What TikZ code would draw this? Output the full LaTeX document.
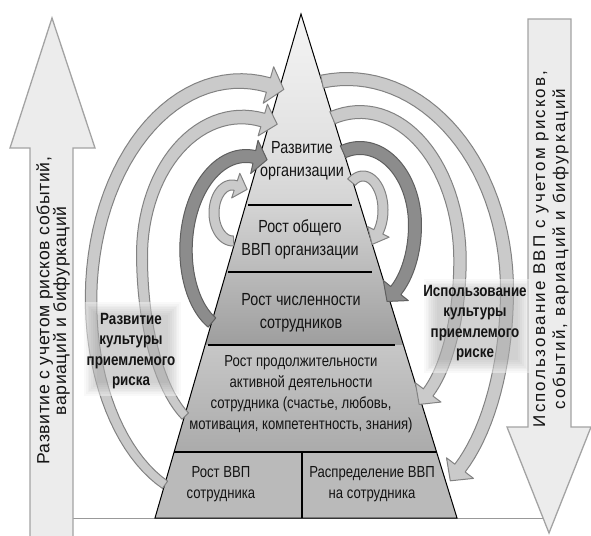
\documentclass[tikz,border=0pt]{standalone}
\usepackage{fontspec}
\setmainfont{Liberation Sans}
\newfontfamily\narrowfont{Liberation Sans}[FakeStretch=0.82]
\usetikzlibrary{calc}

\definecolor{arcfill}{HTML}{CACACA}
\definecolor{arcedge}{HTML}{828282}
\definecolor{darkfill}{HTML}{8C8C8C}
\definecolor{darkedge}{HTML}{5F5F5F}
\definecolor{bigfill}{HTML}{ECECEC}
\definecolor{bigedge}{HTML}{A3A3A3}

\pgfdeclareverticalshading{pyr}{100bp}{color(0bp)=(black!38); color(25bp)=(black!38); color(42.2bp)=(black!38); color(49.4bp)=(black!27); color(56bp)=(black!17); color(61.5bp)=(black!12); color(75bp)=(black!4); color(100bp)=(black!4)}

\pgfkeys{/arr/.cd,
  px/.store in=\Apx, pa/.store in=\Apa, cy/.store in=\Acy,
  ra/.store in=\Ara, rb/.store in=\Arb, rya/.store in=\Rya, ryb/.store in=\Ryb,
  t0/.store in=\Ata, t1/.store in=\Atb, h0/.store in=\Aha, h1/.store in=\Ahb,
  H/.store in=\AH, L/.store in=\AL}

\pgfmathdeclarefunction{arcr}{1}{\begingroup\pgfmathparse{((#1)<\Apa) ? \Ara : \Arb}\pgfmathsmuggle\pgfmathresult\endgroup}
\pgfmathdeclarefunction{arcry}{1}{\begingroup\pgfmathparse{((#1)<\Apa) ? \Rya : \Ryb}\pgfmathsmuggle\pgfmathresult\endgroup}
\pgfmathdeclarefunction{arcx}{1}{\begingroup\pgfmathparse{\Apx+arcr(#1)*(cos(#1)-\Acp)}\pgfmathsmuggle\pgfmathresult\endgroup}
\pgfmathdeclarefunction{arcy}{1}{\begingroup\pgfmathparse{\Acy+arcry(#1)*sin(#1)}\pgfmathsmuggle\pgfmathresult\endgroup}
\pgfmathdeclarefunction{arcnx}{1}{\begingroup\pgfmathparse{arcry(#1)*cos(#1)/veclen(arcr(#1)*sin(#1),arcry(#1)*cos(#1))}\pgfmathsmuggle\pgfmathresult\endgroup}
\pgfmathdeclarefunction{arcny}{1}{\begingroup\pgfmathparse{arcr(#1)*sin(#1)/veclen(arcr(#1)*sin(#1),arcry(#1)*cos(#1))}\pgfmathsmuggle\pgfmathresult\endgroup}
\pgfmathdeclarefunction{arch}{1}{\begingroup\pgfmathparse{\Aha+(\Ahb-\Aha)*((#1)-\Ata)/(\Atb-\Ata)}\pgfmathsmuggle\pgfmathresult\endgroup}

\newcommand\blockarc[2]{%
  \begingroup
  \pgfkeys{/arr/.cd,#1}%
  \pgfmathsetmacro\Acp{cos(\Apa)}%
  \pgfmathsetmacro\Bx{arcx(\Atb)}%
  \pgfmathsetmacro\By{arcy(\Atb)}%
  \pgfmathsetmacro\Nx{arcnx(\Atb)}%
  \pgfmathsetmacro\Ny{arcny(\Atb)}%
  \filldraw[#2] plot[domain=\Ata:\Atb,samples=50,variable=\t]
      ({arcx(\t)+arch(\t)*arcnx(\t)},{arcy(\t)+arch(\t)*arcny(\t)})
    -- ({\Bx+\AH*(\Nx)},{\By+\AH*(\Ny)})
    -- ({\Bx-\AL*(\Ny)},{\By+\AL*(\Nx)})
    -- ({\Bx-\AH*(\Nx)},{\By-\AH*(\Ny)})
    -- plot[domain=\Atb:\Ata,samples=50,variable=\t]
      ({arcx(\t)-arch(\t)*arcnx(\t)},{arcy(\t)-arch(\t)*arcny(\t)})
    -- cycle;
  \endgroup}

\newcommand\glowbox[4]{%
  \fill[white, opacity=0.5] (#1,#2) rectangle (#3,#4);
  \foreach \i in {0,...,7}{\fill[black, opacity=0.025] ($(#1,#2)+(\i*1.8,\i*1.8)$) rectangle ($(#3,#4)-(\i*1.8,\i*1.8)$);}%
}

\tikzset{
  txt/.style={align=center, inner sep=0pt, text=black!92},
  toptxt/.style={txt, font=\narrowfont\fontsize{17.5}{23}\selectfont},
  midtxt/.style={txt, font=\narrowfont\fontsize{16}{21}\selectfont},
  labtxt/.style={txt, font=\narrowfont\bfseries\fontsize{16.3}{20.5}\selectfont},
  bigtxtL/.style={txt, font=\fontsize{17.6}{16.8}\selectfont\addfontfeature{LetterSpace=3.5}},
  bigtxtR/.style={txt, font=\fontsize{17}{20}\selectfont\addfontfeature{LetterSpace=12}},
  lightarc/.style={fill=arcfill, draw=arcedge, line width=1pt, line join=round},
  darkarc/.style={fill=darkfill, draw=darkedge, line width=1pt, line join=round},
  bigarrow/.style={fill=bigfill, draw=bigedge, line width=1.3pt, line join=miter},
  divider/.style={black, line width=2.8pt},
}

\begin{document}
\begin{tikzpicture}[x=1pt,y=-1pt]
\useasboundingbox (0,0) rectangle (591,535);

% base line
\draw[black!40, line width=1.3pt] (60,518.5) -- (545,518.5);

% big side arrows
\draw[bigarrow] (30,540) -- (30,148) -- (10,148) -- (52,18) -- (95,148) -- (73,148) -- (73,540);
\draw[bigarrow] (528,19) -- (571,19) -- (571,427) -- (591,427) -- (549,533) -- (507,427) -- (528,427) -- cycle;
\node[bigtxtL, rotate=90] (lt) at (53,311) {Развитие с учетом рисков событий,\\вариаций и бифуркаций};
\node[bigtxtR, rotate=90] (rt) at (551,249) {Использование ВВП с учетом рисков,\\событий, вариаций и бифуркаций};

% pyramid
\coordinate (apex) at (301,14);
\coordinate (bl) at (155,518);
\coordinate (br) at (457,518);
\shade[shading=pyr] (apex) -- (br) -- (bl) -- cycle;
\shade[top color=black!22, bottom color=black!33] (205.1,345) -- (403.4,345) -- (436.6,452) -- (174.1,452) -- cycle;
\fill[black!27] (174.1,452) -- (436.6,452) -- (br) -- (bl) -- cycle;
\draw[black, line width=1pt, line join=miter] (apex) -- (br) -- (bl) -- cycle;
\draw[divider] (248,205) -- (352,205);
\draw[divider] (228,272) -- (372,272);
\draw[divider] (208,345) -- (395,345);
\draw[black, line width=2.4pt] (174.1,452) -- (436.6,452);
\draw[black, line width=1.4pt] (302,452) -- (302,518);

% curved block arrows, left
\blockarc{px=91,pa=180,cy=300,ra=120,rya=200,rb=149,ryb=219,t0=112.5,t1=281,h0=4.5,h1=7.5,H=19,L=16}{lightarc}
\blockarc{px=142,pa=180,cy=255,ra=71,rya=175,rb=100,ryb=138,t0=113,t1=282,h0=4.5,h1=7,H=16.5,L=15}{lightarc}
\blockarc{px=186,pa=180,cy=250,ra=45,rya=80,rb=60,ryb=94,t0=115,t1=278,h0=6,h1=6.5,H=17,L=13}{darkarc}
\blockarc{px=214,pa=180,cy=213,ra=19,rya=28,rb=18,ryb=28,t0=88,t1=282,h0=5,h1=5,H=13,L=12}{lightarc}
% curved block arrows, right
\blockarc{px=507,pa=360,cy=290,ra=160,rya=211,rb=100,ryb=210,t0=261,t1=418,h0=6.5,h1=6.5,H=17,L=16}{lightarc}
\blockarc{px=460,pa=360,cy=260,ra=100,rya=148,rb=60,ryb=150,t0=254,t1=422,h0=6.5,h1=6,H=16,L=15}{lightarc}
\blockarc{px=415,pa=360,cy=225,ra=55,rya=77,rb=45,ryb=80,t0=252,t1=415,h0=6.5,h1=6.5,H=16,L=14}{darkarc}
\blockarc{px=383,pa=360,cy=210,ra=20,rya=34,rb=20,ryb=34,t0=235,t1=400,h0=5,h1=5,H=12,L=14}{lightarc}

% label boxes
\glowbox{84}{302}{181}{396}
\glowbox{424}{279}{531}{373}
\node[labtxt] (lbl) at (131,351) {Развитие\\культуры\\приемлемого\\риска};
\node[labtxt] (lbr) at (475,323) {Использование\\культуры\\приемлемого\\риске};

% pyramid texts
\node[toptxt] (t1) at (302,161) {Развитие\\организации};
\node[toptxt] (t2) at (300,239) {Рост общего\\ВВП организации};
\node[toptxt] (t3) at (301,313) {Рост численности\\сотрудников};
\node[midtxt] (t4) at (301,394) {Рост продолжительности\\активной деятельности\\сотрудника (счастье, любовь,\\мотивация, компетентность, знания)};
\node[midtxt] (t5) at (221,484) {Рост ВВП\\сотрудника};
\node[midtxt] (t6) at (372,484) {Распределение ВВП\\на сотрудника};
\end{tikzpicture}
\end{document}
